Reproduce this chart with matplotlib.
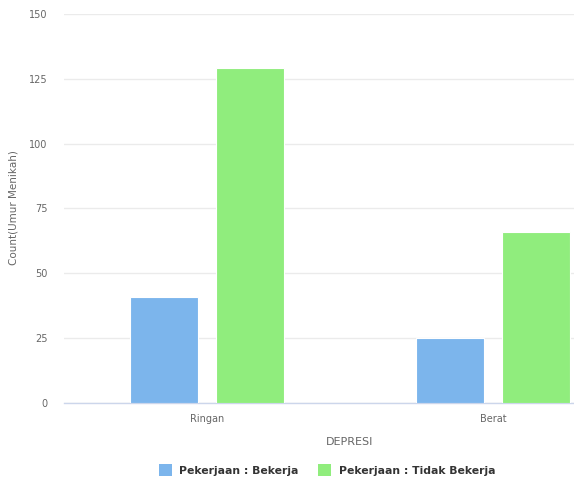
import matplotlib
matplotlib.use("Agg")
from matplotlib import pyplot as plt
from matplotlib.patches import Patch
import numpy

categories = ['Ringan', 'Berat']
series_names = ['Pekerjaan : Bekerja', 'Pekerjaan : Tidak Bekerja']
bekerja = [41, 25]
tidak_bekerja = [129, 66]
colors = ['#7cb5ec', '#90ed7d']
yticks = [0, 25, 50, 75, 100, 125, 150]

plt.rcParams['font.family'] = ['DejaVu Sans']

fig = plt.figure(figsize=(5.74, 4.83), dpi=100, facecolor='w')
# plot area runs past the right edge of the canvas
ax = fig.add_axes([64/574, 80/483, 572/574, 389/483])

x = numpy.arange(len(categories))
width = 0.238
offset = 0.150
ax.bar(x - offset, bekerja, width, color=colors[0], edgecolor='white', linewidth=0.8, zorder=3)
ax.bar(x + offset, tidak_bekerja, width, color=colors[1], edgecolor='white', linewidth=0.8, zorder=3)

ax.set_xlim(-0.5, 1.5)
ax.set_ylim(0, 150)
ax.set_yticks(yticks)
ax.set_xticks(x)
ax.set_xticklabels(categories)
ax.grid(axis='y', color='#ebebeb', linewidth=1, zorder=0)
ax.set_axisbelow(True)

for side in ['top', 'right', 'left']:
    ax.spines[side].set_visible(False)
ax.spines['bottom'].set_color('#ccd6eb')
ax.spines['bottom'].set_linewidth(1)
ax.tick_params(axis='both', length=0, labelsize=7, labelcolor='#666666')
ax.tick_params(axis='y', pad=12)
ax.tick_params(axis='x', pad=8)

ax.set_xlabel('DEPRESI', fontsize=8, color='#666666', labelpad=9)
fig.text(14/574, 1 - 208/483, 'Count(Umur Menikah)', rotation=90, fontsize=7.5,
         color='#666666', ha='center', va='center')

handles = [Patch(facecolor=c, edgecolor='none') for c in colors]
leg = fig.legend(handles, series_names, loc='center', bbox_to_anchor=(327/574, 1 - 470/483),
                 ncol=2, frameon=False, handlelength=1.2, handleheight=1.2,
                 columnspacing=1.8, handletextpad=0.7,
                 prop={'weight': 'bold', 'size': 7.8})
for t in leg.get_texts():
    t.set_color('#333333')

fig.savefig('out.png', dpi=100, facecolor='w')
